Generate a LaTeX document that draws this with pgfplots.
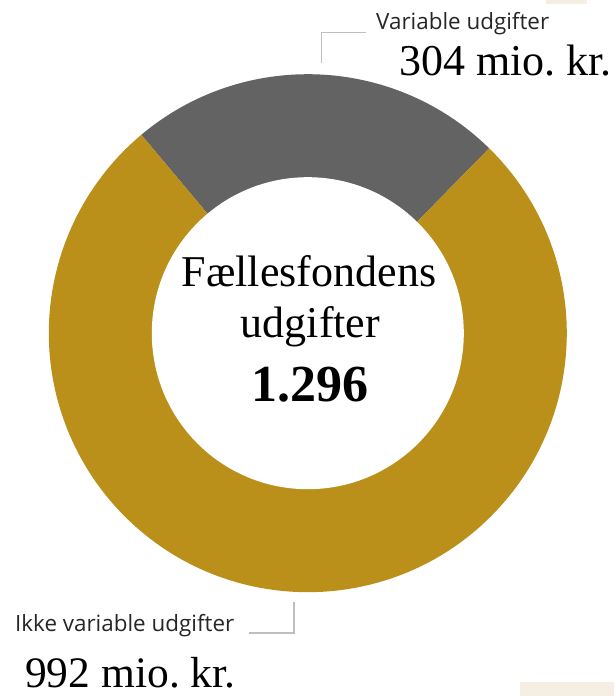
\documentclass[border=0pt]{standalone}
\usepackage{fontspec}
\setmainfont{Liberation Serif}
\newfontfamily\labelfont{Open Sans}
\usepackage{pgfplots}
\pgfplotsset{compat=1.18}
\definecolor{gold}{RGB}{186,144,27}
\definecolor{darkgray}{RGB}{99,99,99}
\definecolor{leader}{RGB}{191,191,191}
\definecolor{beige}{RGB}{244,239,226}
% data (mio. kr.)
\def\valVar{304}
\def\valIkke{992}
\begin{document}
\frenchspacing
\begin{tikzpicture}
\pgfmathsetmacro{\total}{\valVar+\valIkke}
\pgfmathsetmacro{\startA}{130}
\pgfmathsetmacro{\endA}{\startA-360*(\valVar/\total)}
\pgfmathsetmacro{\endB}{\endA-360*(\valIkke/\total)}
\begin{axis}[
  x=1pt, y=1pt,
  xmin=0, xmax=614, ymin=0, ymax=696,
  hide axis, clip=false,
]
\path[draw=none] (axis cs:0,0) rectangle (axis cs:614,696);
\fill[beige] (axis cs:546,692) rectangle (axis cs:587,696);
\fill[beige] (axis cs:520,0) rectangle (axis cs:614,14);
\coordinate (c) at (axis cs:307.8,362.8);
\fill[darkgray] (c) -- ++(\startA:259pt) arc[start angle=\startA, end angle=\endA, radius=259pt] -- cycle;
\fill[gold] (c) -- ++(\endA:259pt) arc[start angle=\endA, end angle=\endB, radius=259pt] -- cycle;
\fill[white] (c) circle[radius=156pt];
% leader lines
\draw[leader, line width=1.5pt] (axis cs:321.7,633) -- (axis cs:321.7,663.3) -- (axis cs:366,663.3);
\draw[leader, line width=1.5pt] (axis cs:249,63) -- (axis cs:294,63) -- (axis cs:294,94);
% labels
\node[anchor=base west, inner sep=0pt, text=black!85] at (axis cs:376,666) {\labelfont\fontsize{22.4}{26}\selectfont Variable udgifter};
\node[anchor=base west, inner sep=0pt] at (axis cs:399,620) {\fontsize{44}{50}\selectfont 304 mio.\ kr.};
\node[anchor=base west, inner sep=0pt, text=black!85] at (axis cs:15,64) {\labelfont\fontsize{22.4}{26}\selectfont Ikke variable udgifter};
\node[anchor=base west, inner sep=0pt] at (axis cs:25,9) {\fontsize{43.5}{50}\selectfont 992 mio.\ kr.};
\node[anchor=base, inner sep=0pt] at (axis cs:309,409) {\fontsize{44}{50}\selectfont Fællesfondens};
\node[anchor=base, inner sep=0pt] at (axis cs:310.5,358) {\fontsize{44}{50}\selectfont udgifter};
\node[anchor=base, inner sep=0pt] at (axis cs:310,294.3) {\fontsize{52}{58}\selectfont\bfseries 1.296};
\end{axis}
\end{tikzpicture}
\end{document}
